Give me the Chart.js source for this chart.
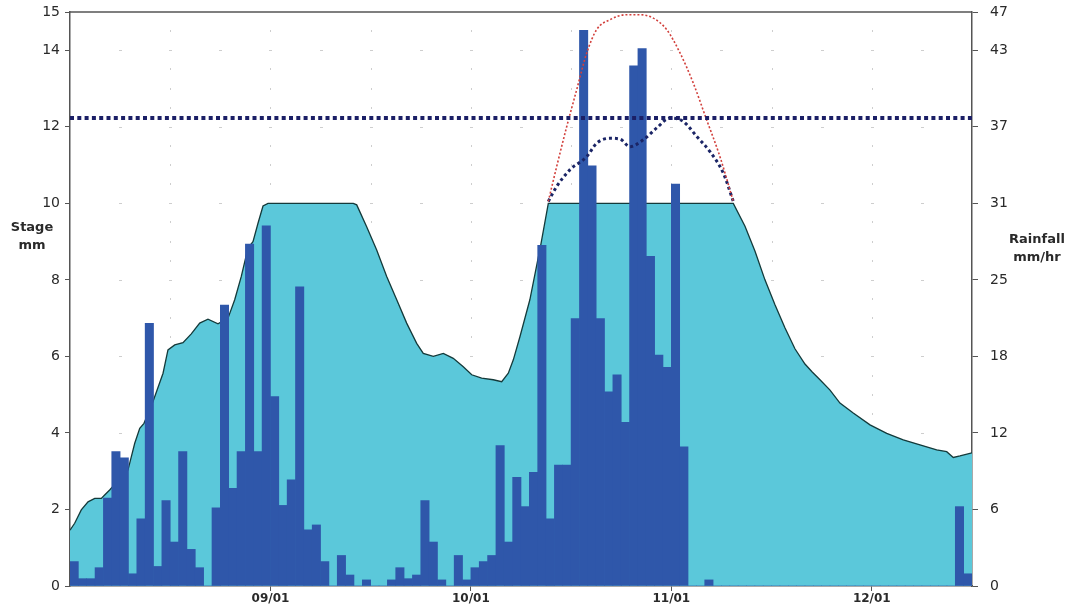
<!DOCTYPE html>
<html>
<head>
<meta charset="utf-8">
<script src="https://cdn.jsdelivr.net/npm/chart.js@4/dist/chart.umd.min.js"></script>
<style>
  html, body { margin: 0; padding: 0; background: #ffffff; }
  #wrap { width: 1070px; height: 606px; }
</style>
</head>
<body>
<div id="wrap"><canvas id="chart" width="1070" height="606"></canvas></div>
<script>
// x runs in rainfall intervals (24 per month), 0..108
const monthTicks = [24, 48, 72, 96];
const monthLabels = ['09/01', '10/01', '11/01', '12/01'];
const stageTicks = [0, 2, 4, 6, 8, 10, 12, 14, 15];
const stageMax = 15;
const rainfallMax = 47;

// rainfall per interval, mm/hr
const rainfall = [
  2.0, 0.6, 0.6, 1.5, 7.2, 11.0, 10.5, 1.0, 5.5, 21.5,
  1.6, 7.0, 3.6, 11.0, 3.0, 1.5, 0, 6.4, 23.0, 8.0,
  11.0, 28.0, 11.0, 29.5, 15.5, 6.6, 8.7, 24.5, 4.6, 5.0,
  2.0, 0, 2.5, 0.9, 0, 0.5, 0, 0, 0.5, 1.5,
  0.6, 0.9, 7.0, 3.6, 0.5, 0, 2.5, 0.5, 1.5, 2.0,
  2.5, 11.5, 3.6, 8.9, 6.5, 9.3, 27.9, 5.5, 9.9, 9.9,
  21.9, 45.5, 34.4, 21.9, 15.9, 17.3, 13.4, 42.6, 44.0, 27.0,
  18.9, 17.9, 32.9, 11.4, 0, 0, 0.5, 0, 0, 0,
  0, 0, 0, 0, 0, 0, 0, 0, 0, 0,
  0, 0, 0, 0, 0, 0, 0, 0, 0, 0,
  0, 0, 0, 0, 0, 0, 6.5, 1.0
];

// recorded stage, mm
const stageX = [
  0, 0.56, 1.35, 2.16, 2.96, 3.75, 4.15, 4.75, 5.75, 6.4,
  6.94, 7.75, 8.35, 8.86, 9.94, 11.14, 11.73, 12.54, 13.53, 14.52,
  15.53, 16.52, 17.72, 18.92, 19.72, 20.51, 21.31, 21.91, 22.51, 23.11,
  23.71, 33.92, 34.33, 35.52, 36.72, 37.92, 39.12, 40.31, 41.51, 42.3,
  43.5, 44.7, 45.89, 47.09, 48.1, 49.29, 50.68, 51.69, 52.48, 53.08,
  53.88, 55.06, 56.39, 57.27, 79.42, 80.82, 82.02, 83.21, 84.41, 85.6,
  86.8, 88.0, 88.84, 89.8, 91.0, 92.19, 93.78, 95.79, 97.79, 99.77,
  101.77, 103.77, 104.97, 105.76, 106.56, 108
];
const stageY = [
  1.46, 1.64, 1.99, 2.2, 2.29, 2.29, 2.38, 2.51, 2.75, 2.9,
  3.03, 3.73, 4.12, 4.25, 4.82, 5.56, 6.17, 6.3, 6.36, 6.59,
  6.87, 6.97, 6.85, 7.0, 7.48, 8.09, 8.83, 9.0, 9.48, 9.93,
  10.0, 10.0, 9.96, 9.39, 8.78, 8.09, 7.48, 6.87, 6.34, 6.08,
  6.0, 6.08, 5.95, 5.73, 5.52, 5.43, 5.39, 5.34, 5.56, 5.91,
  6.52, 7.48, 8.94, 10.0, 10.0, 9.4, 8.75, 8.0, 7.35, 6.75,
  6.2, 5.8, 5.6, 5.39, 5.12, 4.78, 4.52, 4.21, 3.99, 3.82,
  3.69, 3.56, 3.51, 3.36, 3.4, 3.48
];

// flat threshold level, mm
const limitStage = 12.23;

// upper envelope above the capped crest, mm
const envelopeX = [57.27, 58.27, 59.47, 60.67, 61.87, 63.06, 64.66, 66.66, 68.25, 69.84, 71.44, 73.04, 74.63, 76.23, 77.82, 79.42];
const envelopeY = [10.05, 10.96, 12.0, 12.97, 13.93, 14.54, 14.8, 14.93, 14.93, 14.84, 14.54, 13.93, 13.14, 12.18, 11.22, 10.05];

// double-peaked estimate above the capped crest, mm
const estimateX = [57.27, 58.27, 59.87, 61.87, 63.06, 64.66, 65.85, 67.05, 68.64, 70.25, 71.84, 73.43, 75.03, 76.63, 78.22, 79.42];
const estimateY = [10.05, 10.44, 10.88, 11.22, 11.57, 11.7, 11.68, 11.48, 11.66, 11.97, 12.23, 12.14, 11.75, 11.35, 10.79, 10.05];

const toPoints = (xs, ys) => xs.map((x, i) => ({ x: x, y: ys[i] }));

const AXIS = '#555555';
const TEXT = '#2a2a2a';

// sparse dotted grid behind the data
const dotGrid = {
  id: 'dotGrid',
  beforeDatasetsDraw(chart) {
    const { ctx, scales: { x, y } } = chart;
    ctx.save();
    ctx.fillStyle = 'rgba(80,80,80,0.28)';
    for (let s = 2; s < stageMax; s += 2) {
      const py = Math.round(y.getPixelForValue(s));
      for (let u = 6; u < 108; u += 6) {
        ctx.fillRect(Math.round(x.getPixelForValue(u)) - 1, py, 3, 1);
      }
    }
    for (let u = 12; u < 108; u += 12) {
      const px = Math.round(x.getPixelForValue(u));
      for (let s = 0.5; s < stageMax; s += 0.5) {
        if (s % 2 === 0) continue;
        ctx.fillRect(px, Math.round(y.getPixelForValue(s)) - 1, 1, 2);
      }
    }
    ctx.restore();
  }
};

const frameAndTitles = {
  id: 'frameAndTitles',
  afterDraw(chart) {
    const { ctx, chartArea: a } = chart;
    ctx.save();
    ctx.strokeStyle = AXIS;
    ctx.lineWidth = 1.5;
    ctx.beginPath();
    ctx.moveTo(a.left, a.top);
    ctx.lineTo(a.right, a.top);
    ctx.stroke();
    ctx.fillStyle = TEXT;
    ctx.font = 'bold 13px "DejaVu Sans"';
    ctx.textAlign = 'center';
    ctx.textBaseline = 'middle';
    ctx.fillText('Stage', 32, 228);
    ctx.fillText('mm', 32, 246);
    ctx.fillText('Rainfall', 1037, 240);
    ctx.fillText('mm/hr', 1037, 258);
    ctx.restore();
  }
};

const fitSide = w => s => { s.width = w; s.paddingTop = 0; s.paddingBottom = 0; };

new Chart(document.getElementById('chart'), {
  type: 'bar',
  data: {
    datasets: [
      {
        type: 'line',
        label: 'Limit',
        data: [{ x: 0, y: limitStage }, { x: 108, y: limitStage }],
        yAxisID: 'y',
        borderColor: '#1b1f66',
        borderWidth: 4,
        borderDash: [4, 3.3],
        borderCapStyle: 'butt',
        pointRadius: 0,
        fill: false,
        order: 0
      },
      {
        type: 'line',
        label: 'Envelope',
        data: toPoints(envelopeX, envelopeY),
        yAxisID: 'y',
        borderColor: '#d2403c',
        borderWidth: 1.6,
        borderDash: [2, 2],
        pointRadius: 0,
        cubicInterpolationMode: 'monotone',
        fill: false,
        order: 0
      },
      {
        type: 'line',
        label: 'Estimate',
        data: toPoints(estimateX, estimateY),
        yAxisID: 'y',
        borderColor: '#1b2566',
        borderWidth: 3,
        borderDash: [3, 3],
        pointRadius: 0,
        cubicInterpolationMode: 'monotone',
        fill: false,
        order: 0
      },
      {
        type: 'bar',
        label: 'Rainfall',
        data: rainfall.map((v, i) => ({ x: i + 0.5, y: v })),
        yAxisID: 'yR',
        backgroundColor: '#2f57aa',
        borderWidth: 0,
        barPercentage: 1,
        categoryPercentage: 1,
        order: 1
      },
      {
        type: 'line',
        label: 'Stage',
        data: toPoints(stageX, stageY),
        yAxisID: 'y',
        borderColor: '#143a3a',
        borderWidth: 1.3,
        backgroundColor: '#5bc8da',
        fill: 'origin',
        pointRadius: 0,
        tension: 0,
        order: 2
      }
    ]
  },
  options: {
    responsive: false,
    devicePixelRatio: 1,
    animation: false,
    layout: { padding: { top: 12, left: 0, right: 0, bottom: 0 } },
    plugins: { legend: { display: false }, tooltip: { enabled: false } },
    scales: {
      x: {
        type: 'linear',
        min: 0,
        max: 108,
        offset: false,
        afterBuildTicks: s => { s.ticks = monthTicks.map(v => ({ value: v })); },
        afterFit: s => { s.height = 20; s.paddingLeft = 0; s.paddingRight = 0; },
        ticks: {
          autoSkip: false,
          maxRotation: 0,
          padding: 1,
          color: TEXT,
          font: { family: '"DejaVu Sans"', size: 12, weight: 'bold' },
          callback: v => monthLabels[monthTicks.indexOf(v)]
        },
        grid: { offset: false, drawOnChartArea: false, tickLength: 5, tickColor: AXIS },
        border: { color: AXIS, width: 1.5 }
      },
      y: {
        position: 'left',
        min: 0,
        max: stageMax,
        afterBuildTicks: s => { s.ticks = stageTicks.map(v => ({ value: v })); },
        afterFit: fitSide(70),
        ticks: {
          padding: 5,
          color: TEXT,
          font: { family: '"DejaVu Sans"', size: 14 }
        },
        grid: { drawOnChartArea: false, tickColor: AXIS, tickLength: 5 },
        border: { color: AXIS, width: 1.5 }
      },
      yR: {
        position: 'right',
        min: 0,
        max: rainfallMax,
        afterBuildTicks: s => { s.ticks = stageTicks.map(v => ({ value: v * rainfallMax / stageMax })); },
        afterFit: fitSide(98),
        ticks: {
          padding: 12,
          color: TEXT,
          font: { family: '"DejaVu Sans"', size: 14 },
          callback: v => String(Math.floor(v + 1e-6))
        },
        grid: { drawOnChartArea: false, tickLength: 6, tickColor: AXIS },
        border: { color: AXIS, width: 1.5 }
      }
    }
  },
  plugins: [dotGrid, frameAndTitles]
});
</script>
</body>
</html>
